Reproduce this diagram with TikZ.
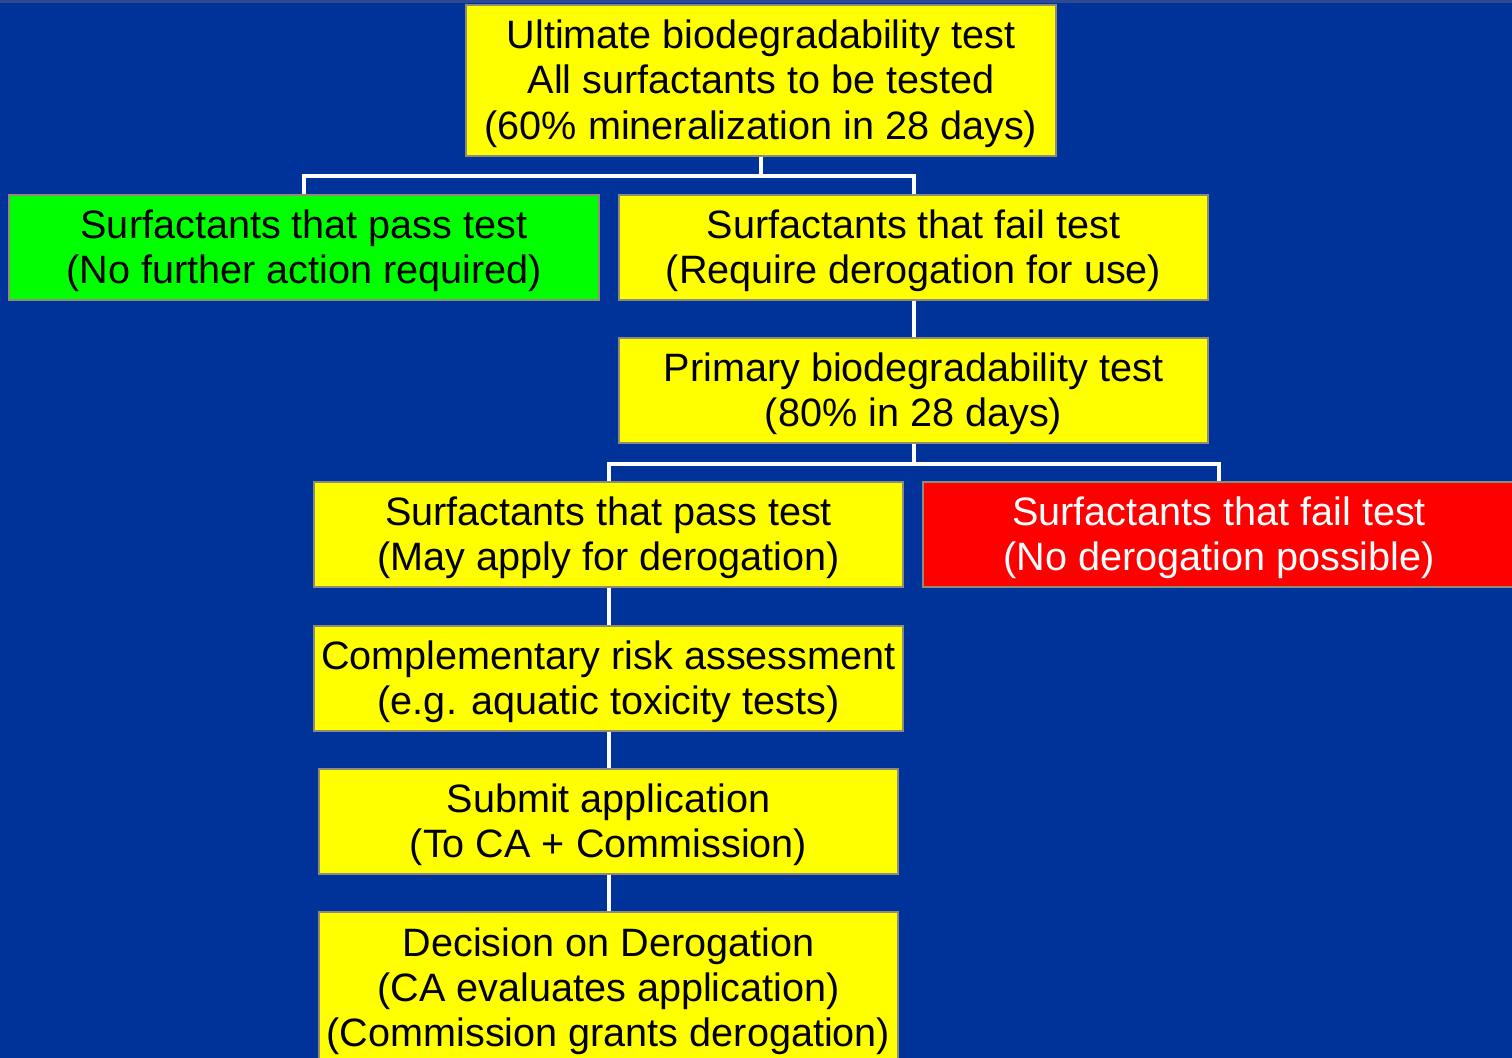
\documentclass[tikz,border=0pt]{standalone}
\usepackage{fontspec}
\setmainfont{Liberation Sans}
\definecolor{bgblue}{RGB}{0,51,153}
\definecolor{topstrip}{RGB}{46,74,147}
\definecolor{boxyellow}{RGB}{255,255,0}
\definecolor{boxgreen}{RGB}{0,255,0}
\definecolor{boxred}{RGB}{255,0,0}
\definecolor{boxborder}{RGB}{140,140,120}
\newcommand{\firststrut}{\rule{0pt}{17.6pt}}
\begin{document}
\begin{tikzpicture}[x=0.5pt,y=-0.5pt,
  box/.style={draw=boxborder, line width=0.6pt, rectangle, inner sep=0pt, align=center,
    font=\fontsize{19.8}{22.6}\selectfont, text=black},
  ybox/.style={box, fill=boxyellow},
  wide/.style={minimum width=294.5pt, minimum height=52.5pt},
  link/.style={draw=white, line width=2pt}]
\useasboundingbox (0,0) rectangle (1512,1058);
\clip (0,0) rectangle (1512,1058);
\fill[bgblue] (0,0) rectangle (1512,1058);
\fill[topstrip] (0,0) rectangle (1512,3);

\node[ybox, minimum width=295pt, minimum height=75.5pt] (top) at (761,80.5)
  {\firststrut Ultimate biodegradability test\\All surfactants to be tested\\(60\% mineralization in 28 days)};
\node[box, fill=boxgreen, minimum width=295pt, minimum height=52.5pt] (pass1) at (304,247.5)
  {\firststrut Surfactants that pass test\\(No further action required)};
\node[ybox, wide] (fail1) at (913.5,247.5)
  {\firststrut Surfactants that fail test\\(Require derogation for use)};
\node[ybox, wide] (primary) at (913.5,390.5)
  {\firststrut Primary biodegradability test\\(80\% in 28 days)};
\node[ybox, wide] (pass2) at (608.5,534.5)
  {\firststrut Surfactants that pass test\\(May apply for derogation)};
\node[box, fill=boxred, text=white, minimum width=296pt, minimum height=52.5pt] (fail2) at (1219,534.5)
  {\firststrut Surfactants that fail test\\(No derogation possible)};
\node[ybox, wide] (comp) at (608.5,678.5)
  {\firststrut Complementary risk assessment\\(e.g. aquatic toxicity tests)};
\node[ybox, minimum width=289.5pt, minimum height=52.5pt] (submit) at (608.5,821.5)
  {\firststrut Submit application\\(To CA + Commission)};
\node[ybox, minimum width=289.5pt, minimum height=76pt] (decision) at (608.5,988)
  {\firststrut Decision on Derogation\\(CA evaluates application)\\(Commission grants derogation)};

\draw[link] (top.south) -- ++(0,19) -| (pass1.north);
\draw[link] (top.south) -- ++(0,19) -| (fail1.north);
\draw[link] (fail1.south) -- (primary.north);
\draw[link] (primary.south) -- ++(0,20) -| (pass2.north);
\draw[link] (primary.south) -- ++(0,20) -| (fail2.north);
\draw[link] (pass2.south) -- (comp.north);
\draw[link] (comp.south) -- (submit.north);
\draw[link] (submit.south) -- (decision.north);
\end{tikzpicture}
\end{document}
